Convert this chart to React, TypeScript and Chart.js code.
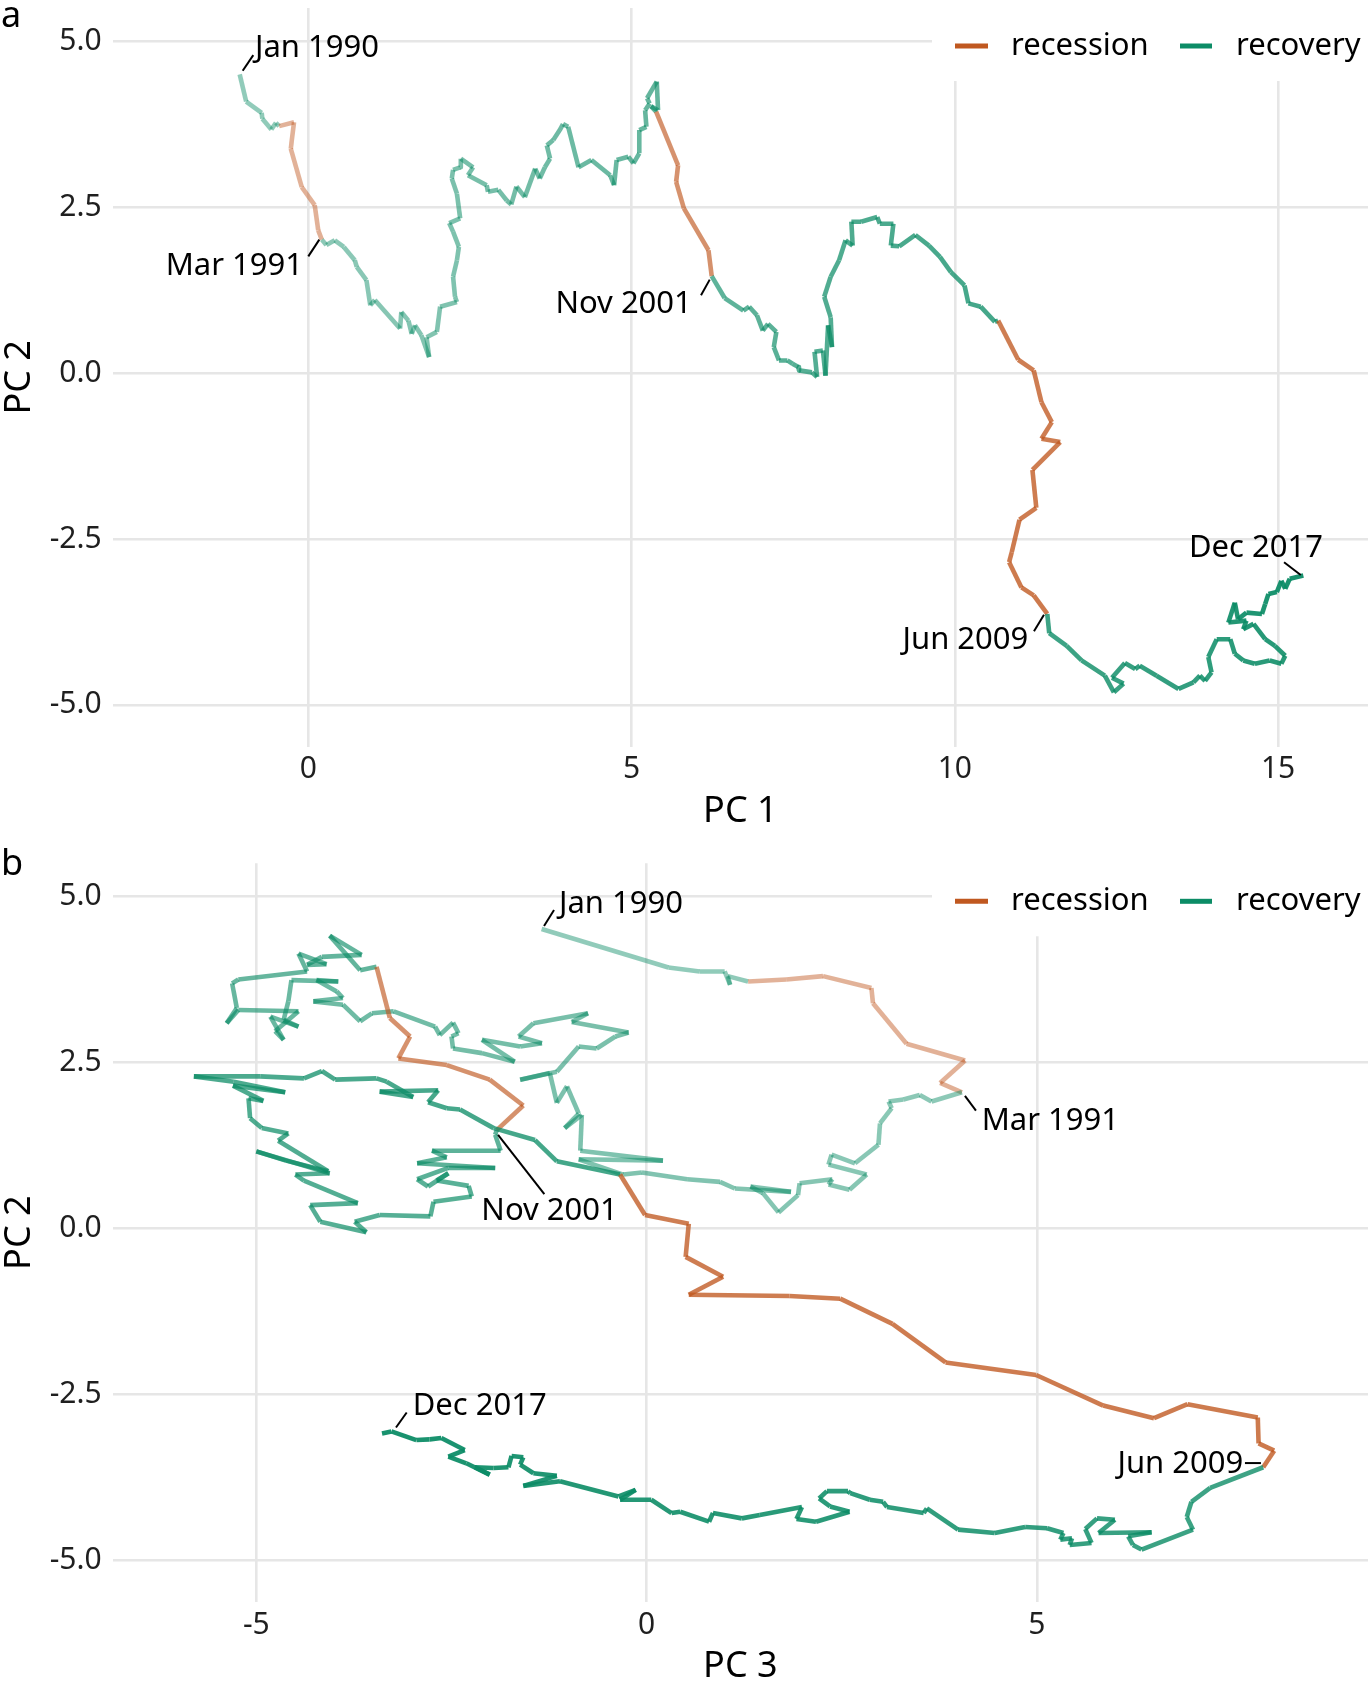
import React, { useEffect, useRef } from "react";
import { Chart, registerables } from "chart.js";

Chart.register(...registerables);

// ---------- phases (shared by both panels) ----------
const PHASE_KIND = ["recovery", "recession", "recovery", "recession", "recovery", "recession", "recovery"];
const PHASE_START_YEAR = [1990.0, 1990.5, 1991.17, 2001.17, 2001.83, 2007.92, 2009.42];
const END_YEAR = 2017.92;

// ---------- panel a : PC1 (x) vs PC2 (y) ----------
const a_recovery_1990: [number, number][] = [
  [-1.06, 4.5], [-0.96, 4.09], [-0.72, 3.92], [-0.71, 3.83], [-0.57, 3.67], [-0.5, 3.77],
];
const a_recession_1990: [number, number][] = [
  [-0.45, 3.72], [-0.22, 3.78], [-0.27, 3.38], [-0.1, 2.8], [0.1, 2.53], [0.155, 2.15],
];
const a_recovery_1991: [number, number][] = [
  [0.21, 2.01], [0.28, 1.93], [0.41, 2.0], [0.55, 1.9], [0.72, 1.7], [0.75, 1.6], [0.9, 1.4], [0.96, 1.02],
  [1.03, 1.1], [1.42, 0.67], [1.44, 0.92], [1.55, 0.79], [1.6, 0.59], [1.65, 0.72], [1.75, 0.57], [1.87, 0.24],
  [1.83, 0.54], [1.99, 0.62], [2.04, 1.0], [2.3, 1.07], [2.27, 1.15], [2.24, 1.45], [2.3, 1.7], [2.33, 1.9],
  [2.24, 2.13], [2.18, 2.26], [2.35, 2.33], [2.3, 2.7], [2.22, 2.93], [2.24, 3.06], [2.35, 3.1], [2.36, 3.23],
  [2.55, 3.1], [2.47, 2.98], [2.76, 2.83], [2.78, 2.73], [2.94, 2.76], [3.07, 2.6], [3.14, 2.54], [3.22, 2.81],
  [3.35, 2.65], [3.51, 3.08], [3.58, 2.93], [3.66, 3.1], [3.74, 3.23], [3.69, 3.43], [3.79, 3.51], [3.89, 3.66],
  [3.94, 3.75], [4.02, 3.71], [4.18, 3.1], [4.38, 3.21], [4.67, 2.98], [4.73, 2.83], [4.77, 3.21], [4.95, 3.26],
  [5.03, 3.16], [5.12, 3.31], [5.12, 3.66], [5.23, 3.71], [5.21, 3.96], [5.28, 4.06], [5.24, 4.14], [5.39, 4.39],
  [5.41, 3.96], [5.3, 4.02],
];
const a_recession_2001: [number, number][] = [
  [5.38, 3.94], [5.72, 3.13], [5.69, 2.88], [5.81, 2.48], [6.19, 1.85],
];
const a_recovery_2001: [number, number][] = [
  [6.24, 1.46], [6.44, 1.13], [6.73, 0.94], [6.82, 1.0], [6.94, 0.87], [7.03, 0.64], [7.11, 0.74], [7.24, 0.62],
  [7.2, 0.39], [7.28, 0.19], [7.41, 0.19], [7.49, 0.14], [7.58, 0.09], [7.59, 0.04], [7.79, 0.01], [7.87, -0.06],
  [7.83, 0.32], [7.96, 0.34], [8.0, -0.04], [8.04, 0.72], [8.1, 0.39], [8.08, 0.84], [7.98, 1.15], [8.08, 1.45],
  [8.21, 1.7], [8.31, 2.0], [8.42, 1.92], [8.4, 2.28], [8.55, 2.28], [8.8, 2.35], [8.84, 2.25], [9.05, 2.25],
  [9.01, 1.92], [9.14, 1.91], [9.39, 2.08], [9.6, 1.92], [9.77, 1.75], [9.94, 1.52], [10.15, 1.32], [10.21, 1.05],
  [10.4, 1.0], [10.62, 0.77],
];
const a_recession_2008: [number, number][] = [
  [10.67, 0.79], [10.98, 0.2], [11.22, 0.04], [11.34, -0.44], [11.5, -0.74], [11.34, -0.99], [11.63, -1.04],
  [11.2, -1.46], [11.26, -2.03], [11.0, -2.21], [10.88, -2.7], [10.84, -2.85], [11.03, -3.23], [11.22, -3.35],
];
const a_recovery_2009: [number, number][] = [
  [11.43, -3.63], [11.46, -3.92], [11.73, -4.11], [11.96, -4.33], [12.32, -4.56], [12.46, -4.81], [12.61, -4.68],
  [12.43, -4.59], [12.63, -4.37], [12.79, -4.46], [12.86, -4.41], [13.12, -4.56], [13.46, -4.76], [13.69, -4.66],
  [13.79, -4.56], [13.87, -4.64], [13.97, -4.51], [13.92, -4.28], [14.05, -4.01], [14.26, -4.01], [14.33, -4.23],
  [14.46, -4.33], [14.64, -4.38], [14.87, -4.33], [15.05, -4.38], [15.11, -4.26], [14.95, -4.11], [14.8, -4.01],
  [14.62, -3.78], [14.46, -3.86], [14.51, -3.73], [14.23, -3.76], [14.33, -3.46], [14.38, -3.71], [14.51, -3.61],
  [14.75, -3.63], [14.8, -3.48], [14.85, -3.33], [14.98, -3.3], [15.05, -3.13], [15.11, -3.25], [15.18, -3.1],
  [15.39, -3.05],
];

// ---------- panel b : PC3 (x) vs PC2 (y) ----------
const b_recovery_1990: [number, number][] = [
  [-1.345, 4.51], [0.28, 3.93], [0.68, 3.87], [1.0, 3.87], [1.07, 3.67], [1.04, 3.8],
];
const b_recession_1990: [number, number][] = [
  [1.3, 3.72], [1.79, 3.75], [2.26, 3.8], [2.88, 3.62], [2.9, 3.39], [3.33, 2.78], [4.08, 2.53], [3.76, 2.19],
];
const b_recovery_1991: [number, number][] = [
  [4.04, 2.05], [3.65, 1.91], [3.5, 2.01], [3.29, 1.94], [3.1, 1.91], [3.14, 1.81], [2.99, 1.58], [2.97, 1.26],
  [2.67, 0.98], [2.37, 1.11], [2.33, 0.96], [2.82, 0.81], [2.6, 0.58], [2.33, 0.66], [2.38, 0.74], [1.96, 0.68],
  [1.94, 0.5], [1.69, 0.24], [1.49, 0.53], [1.33, 0.63], [1.85, 0.55], [1.13, 0.6], [0.94, 0.7], [0.52, 0.74],
  [-0.06, 0.84], [-0.3, 0.81], [-0.87, 1.04], [0.21, 1.02], [-0.85, 1.17], [-0.83, 1.71], [-1.05, 1.51],
  [-0.87, 1.73], [-1.02, 2.14], [-1.15, 1.89], [-1.24, 2.34], [-1.62, 2.24], [-1.15, 2.36], [-0.87, 2.74],
  [-0.64, 2.71], [-0.4, 2.89], [-0.23, 2.95], [-0.96, 3.11], [-0.75, 3.24], [-1.45, 3.09], [-1.64, 2.89],
  [-1.34, 2.79], [-1.62, 2.74], [-2.11, 2.84], [-1.69, 2.51], [-2.11, 2.64], [-2.48, 2.71], [-2.5, 2.89],
  [-2.41, 2.94], [-2.48, 3.1], [-2.65, 2.91], [-2.71, 3.04], [-3.24, 3.27], [-3.52, 3.24], [-3.67, 3.12],
  [-3.89, 3.37], [-4.27, 3.42], [-3.89, 3.47], [-3.97, 3.57], [-4.23, 3.74], [-3.95, 3.72], [-4.55, 3.74],
  [-4.59, 3.42], [-4.65, 3.14], [-4.46, 3.04], [-4.82, 3.19], [-4.65, 2.84], [-4.76, 2.97], [-4.46, 3.27],
  [-5.23, 3.29], [-5.38, 3.09], [-5.25, 3.32], [-5.31, 3.69], [-5.23, 3.75], [-4.35, 3.87], [-4.46, 4.14],
  [-4.1, 3.98], [-4.35, 3.97], [-4.16, 4.09], [-3.65, 4.12], [-4.06, 4.41], [-3.67, 3.89],
];
const b_recession_2001: [number, number][] = [
  [-3.46, 3.94], [-3.29, 3.17], [-3.03, 2.89], [-3.18, 2.56], [-2.56, 2.46], [-2.01, 2.24], [-1.58, 1.85],
];
const b_recovery_2001: [number, number][] = [
  [-1.92, 1.48], [-1.94, 1.41], [-1.87, 1.17], [-2.75, 1.17], [-2.56, 1.07], [-2.94, 0.98], [-1.94, 0.91],
  [-2.54, 0.91], [-2.94, 0.74], [-2.8, 0.63], [-2.54, 0.83], [-2.69, 0.72], [-2.28, 0.64], [-2.24, 0.48],
  [-2.73, 0.4], [-2.77, 0.18], [-3.42, 0.2], [-3.74, 0.1], [-3.59, -0.06], [-4.18, 0.1], [-4.31, 0.35],
  [-3.7, 0.38], [-4.39, 0.72], [-4.5, 0.81], [-4.06, 0.83], [-5.0, 1.16], [-4.62, 1.02], [-4.08, 0.86],
  [-4.72, 1.32], [-4.59, 1.43], [-4.93, 1.51], [-5.08, 1.66], [-5.1, 1.96], [-4.91, 1.92], [-5.3, 2.15],
  [-4.63, 2.05], [-5.29, 2.21], [-5.8, 2.29], [-4.95, 2.29], [-4.39, 2.26], [-4.16, 2.37], [-3.99, 2.24],
  [-3.46, 2.26], [-3.33, 2.21], [-2.99, 1.98], [-3.42, 2.06], [-2.67, 2.08], [-2.8, 1.9], [-2.56, 1.81],
  [-2.39, 1.79], [-1.96, 1.51], [-1.43, 1.33], [-1.15, 1.01],
];
const b_recession_2008: [number, number][] = [
  [-0.34, 0.81], [-0.02, 0.2], [0.54, 0.07], [0.5, -0.43], [0.98, -0.73], [0.54, -1.0], [1.83, -1.02],
  [2.48, -1.06], [3.15, -1.44], [3.83, -2.02], [4.99, -2.21], [5.85, -2.67], [6.5, -2.86], [6.93, -2.65],
  [7.83, -2.85], [7.84, -3.24], [8.04, -3.35],
];
const b_recovery_2009: [number, number][] = [
  [7.9, -3.6], [7.22, -3.91], [6.98, -4.12], [6.92, -4.35], [7.0, -4.54], [6.34, -4.84], [6.23, -4.77],
  [6.17, -4.64], [6.47, -4.58], [5.79, -4.59], [6.0, -4.39], [5.77, -4.37], [5.62, -4.53], [5.7, -4.74],
  [5.42, -4.77], [5.45, -4.67], [5.3, -4.69], [5.34, -4.59], [5.13, -4.52], [4.85, -4.5], [4.46, -4.59],
  [3.99, -4.54], [3.59, -4.22], [3.55, -4.29], [3.08, -4.2], [3.03, -4.12], [2.86, -4.09], [2.61, -3.99],
  [2.58, -3.96], [2.31, -3.96], [2.21, -4.07], [2.35, -4.19], [2.6, -4.27], [2.17, -4.42], [1.92, -4.38],
  [1.99, -4.2], [1.45, -4.32], [1.22, -4.37], [0.85, -4.29], [0.8, -4.42], [0.43, -4.27], [0.32, -4.29],
  [0.06, -4.09], [-0.34, -4.09], [-0.14, -3.94], [-0.36, -4.04], [-1.11, -3.81], [-1.58, -3.88],
  [-1.15, -3.73], [-1.45, -3.69], [-1.62, -3.56], [-1.58, -3.45], [-1.73, -3.43], [-1.77, -3.6],
  [-1.96, -3.61], [-2.2, -3.6], [-2.01, -3.71], [-2.31, -3.54], [-2.54, -3.44], [-2.33, -3.34],
  [-2.63, -3.16], [-2.78, -3.18], [-2.95, -3.19], [-3.27, -3.06], [-3.39, -3.09],
];

// ---------- ticks ----------
const A_X_TICKS = [0, 5, 10, 15];
const B_X_TICKS = [-5, 0, 5];
const Y_TICKS = [-5, -2.5, 0, 2.5, 5];

// ---------- styling ----------
const FONT = "'Noto Sans', 'Open Sans', 'DejaVu Sans', sans-serif";
const GREEN = [12, 140, 102];
const ORANGE = [192, 88, 32];
const PLOT_H = 738.7;

type LabelDef = {
  text: string;
  phase: number;
  idx: number; // -1 => last point of phase
  l0: [number, number];
  l1: [number, number];
  t: [number, number];
  align: CanvasTextAlign;
};

const A_LABELS: LabelDef[] = [
  { text: "Jan 1990", phase: 0, idx: 0, l0: [3, -3.6], l1: [13.6, -19.3], t: [15.3, -26], align: "left" },
  { text: "Mar 1991", phase: 2, idx: 0, l0: [-2.5, 0], l1: [-13.5, 16.7], t: [-18.8, 27], align: "right" },
  { text: "Nov 2001", phase: 4, idx: 0, l0: [-2, 3.5], l1: [-10.7, 19.2], t: [-19.9, 28.5], align: "right" },
  { text: "Jun 2009", phase: 6, idx: 0, l0: [-3.3, 0.7], l1: [-13.3, 17.4], t: [-19, 26], align: "right" },
  { text: "Dec 2017", phase: 6, idx: -1, l0: [-2.6, -0.5], l1: [-19.3, -13.2], t: [-47.4, -27.5], align: "center" },
];
const B_LABELS: LabelDef[] = [
  { text: "Jan 1990", phase: 0, idx: 0, l0: [2.4, -3], l1: [12.4, -19], t: [17.4, -25], align: "left" },
  { text: "Mar 1991", phase: 2, idx: 0, l0: [3, 3.6], l1: [14, 18.3], t: [19.7, 28.6], align: "left" },
  { text: "Nov 2001", phase: 4, idx: 0, l0: [1.3, 4.8], l1: [47.6, 64.1], t: [52.8, 80.8], align: "center" },
  { text: "Jun 2009", phase: 6, idx: 0, l0: [-2.3, -4.2], l1: [-18.3, -4.2], t: [-20, -3], align: "right" },
  { text: "Dec 2017", phase: 6, idx: -1, l0: [14, -5.9], l1: [24.7, -20.9], t: [30.7, -27.2], align: "left" },
];

type PanelCfg = {
  tag: string;
  tagBaseline: number;
  top: number;
  height: number;
  padTop: number;
  phases: [number, number][][];
  xMin: number;
  xMax: number;
  xTicks: number[];
  xTitle: string;
  labels: LabelDef[];
};

const PANELS: PanelCfg[] = [
  {
    tag: "a",
    tagBaseline: 27,
    top: 0,
    height: 835,
    padTop: 8,
    phases: [a_recovery_1990, a_recession_1990, a_recovery_1991, a_recession_2001, a_recovery_2001, a_recession_2008, a_recovery_2009],
    xMin: -3.024,
    xMax: 16.39,
    xTicks: A_X_TICKS,
    xTitle: "PC 1",
    labels: A_LABELS,
  },
  {
    tag: "b",
    tagBaseline: 40,
    top: 835,
    height: 860,
    padTop: 28.3,
    phases: [b_recovery_1990, b_recession_1990, b_recovery_1991, b_recession_2001, b_recovery_2001, b_recession_2008, b_recovery_2009],
    xMin: -6.84,
    xMax: 9.242,
    xTicks: B_X_TICKS,
    xTitle: "PC 3",
    labels: B_LABELS,
  },
];

function rgba(c: number[], a: number) {
  return `rgba(${c[0]},${c[1]},${c[2]},${a.toFixed(3)})`;
}

function Panel({ cfg }: { cfg: PanelCfg }) {
  const ref = useRef<HTMLCanvasElement>(null);

  useEffect(() => {
    const canvas = ref.current;
    if (!canvas) return;
    const pts: { x: number; y: number }[] = [];
    const kinds: string[] = [];
    const times: number[] = [];
    const nPh = PHASE_START_YEAR.length;
    cfg.phases.forEach((arr, p) => {
      const t0 = PHASE_START_YEAR[p];
      const last = p + 1 >= nPh;
      const t1 = last ? END_YEAR : PHASE_START_YEAR[p + 1];
      const n = arr.length;
      arr.forEach((q, i) => {
        pts.push({ x: q[0], y: q[1] });
        kinds.push(PHASE_KIND[p]);
        const frac = last ? (n > 1 ? i / (n - 1) : 0) : i / n;
        times.push(t0 + (t1 - t0) * frac);
      });
    });
    const colorAt = (i: number) => {
      const a = 0.45 + 0.5 * ((times[i] - 1990) / (END_YEAR - 1990));
      return rgba(kinds[i] === "recession" ? ORANGE : GREEN, a);
    };

    const overlay = {
      id: "overlay",
      afterDatasetsDraw(chart: any) {
        const ctx = chart.ctx as CanvasRenderingContext2D;
        const area = chart.chartArea;
        const xs = chart.scales.x;
        const ys = chart.scales.y;
        ctx.save();
        // legend box
        ctx.fillStyle = "#ffffff";
        ctx.fillRect(932, area.top - 1, chart.width - 932, 74);
        const ly = area.top + 38;
        ctx.lineWidth = 5;
        ctx.lineCap = "butt";
        ctx.strokeStyle = rgba(ORANGE, 1);
        ctx.beginPath();
        ctx.moveTo(955, ly);
        ctx.lineTo(988, ly);
        ctx.stroke();
        ctx.strokeStyle = rgba(GREEN, 1);
        ctx.beginPath();
        ctx.moveTo(1180, ly);
        ctx.lineTo(1212, ly);
        ctx.stroke();
        ctx.fillStyle = "#000";
        ctx.font = `31px ${FONT}`;
        ctx.textBaseline = "middle";
        ctx.textAlign = "left";
        ctx.fillText("recession", 1011, ly);
        ctx.fillText("recovery", 1236, ly);

        // labels with leader lines
        cfg.labels.forEach((L) => {
          const arr = cfg.phases[L.phase];
          const q = arr[L.idx < 0 ? arr.length - 1 : L.idx];
          const px = xs.getPixelForValue(q[0]);
          const py = ys.getPixelForValue(q[1]);
          ctx.strokeStyle = "#000";
          ctx.lineWidth = 2;
          ctx.beginPath();
          ctx.moveTo(px + L.l0[0], py + L.l0[1]);
          ctx.lineTo(px + L.l1[0], py + L.l1[1]);
          ctx.stroke();
          ctx.fillStyle = "#000";
          ctx.font = `31px ${FONT}`;
          ctx.textAlign = L.align;
          ctx.textBaseline = "middle";
          ctx.fillText(L.text, px + L.t[0], py + L.t[1]);
        });

        // axis titles
        ctx.fillStyle = "#000";
        ctx.font = `36px ${FONT}`;
        ctx.textAlign = "center";
        ctx.textBaseline = "middle";
        ctx.fillText(cfg.xTitle, (area.left + area.right) / 2, area.bottom + 65);
        ctx.save();
        ctx.translate(19.5, (area.top + area.bottom) / 2);
        ctx.rotate(-Math.PI / 2);
        ctx.fillText("PC 2", 0, 0);
        ctx.restore();

        // tag
        ctx.textAlign = "left";
        ctx.textBaseline = "alphabetic";
        ctx.font = `36px ${FONT}`;
        ctx.fillText(cfg.tag, 1, cfg.tagBaseline);
        ctx.restore();
      },
    };

    const gridOpts = { color: "#E6E6E6", lineWidth: 2.6, drawTicks: false };
    const chart = new Chart(canvas, {
      type: "scatter",
      data: {
        datasets: [
          {
            data: pts,
            showLine: true,
            pointRadius: 0,
            pointHoverRadius: 0,
            borderWidth: 4.6,
            borderCapStyle: "butt",
            borderJoinStyle: "round",
            borderColor: colorAt(0),
            segment: {
              borderColor: (c: any) => colorAt(c.p0DataIndex),
            },
          } as any,
        ],
      },
      options: {
        animation: false,
        responsive: false,
        maintainAspectRatio: false,
        events: [],
        layout: { padding: { top: cfg.padTop, right: 3, left: 0, bottom: 0 } },
        plugins: { legend: { display: false }, tooltip: { enabled: false } },
        scales: {
          x: {
            type: "linear",
            min: cfg.xMin,
            max: cfg.xMax,
            afterBuildTicks: (s: any) => {
              s.ticks = cfg.xTicks.map((v) => ({ value: v }));
            },
            afterFit: (s: any) => {
              s.height = cfg.height - cfg.padTop - PLOT_H;
              s.paddingLeft = 0;
              s.paddingRight = 0;
            },
            grid: gridOpts,
            border: { display: false },
            ticks: {
              font: { family: FONT, size: 30 },
              color: "#1f1f1f",
              padding: 5,
              maxRotation: 0,
              autoSkip: false,
              callback: (v: any) => String(v),
            },
          },
          y: {
            type: "linear",
            min: -5.63,
            max: 5.5,
            afterBuildTicks: (s: any) => {
              s.ticks = Y_TICKS.map((v) => ({ value: v }));
            },
            afterFit: (s: any) => {
              s.width = 112.7;
              s.paddingTop = 0;
              s.paddingBottom = 0;
            },
            grid: gridOpts,
            border: { display: false },
            ticks: {
              font: { family: FONT, size: 30 },
              color: "#1f1f1f",
              padding: 11,
              autoSkip: false,
              callback: (v: any) => Number(v).toFixed(1),
            },
          },
        },
      } as any,
      plugins: [overlay],
    });
    return () => chart.destroy();
  }, [cfg]);

  return (
    <canvas
      ref={ref}
      width={1371}
      height={cfg.height}
      style={{ position: "absolute", left: 0, top: cfg.top, width: 1371, height: cfg.height }}
    />
  );
}

export default function App() {
  useEffect(() => {
    document.body.style.margin = "0";
    document.body.style.overflow = "hidden";
  }, []);
  return (
    <div
      style={{
        position: "fixed",
        left: 0,
        top: 0,
        width: 1371,
        height: 1695,
        background: "#ffffff",
        overflow: "hidden",
      }}
    >
      {PANELS.map((p) => (
        <Panel key={p.tag} cfg={p} />
      ))}
    </div>
  );
}
